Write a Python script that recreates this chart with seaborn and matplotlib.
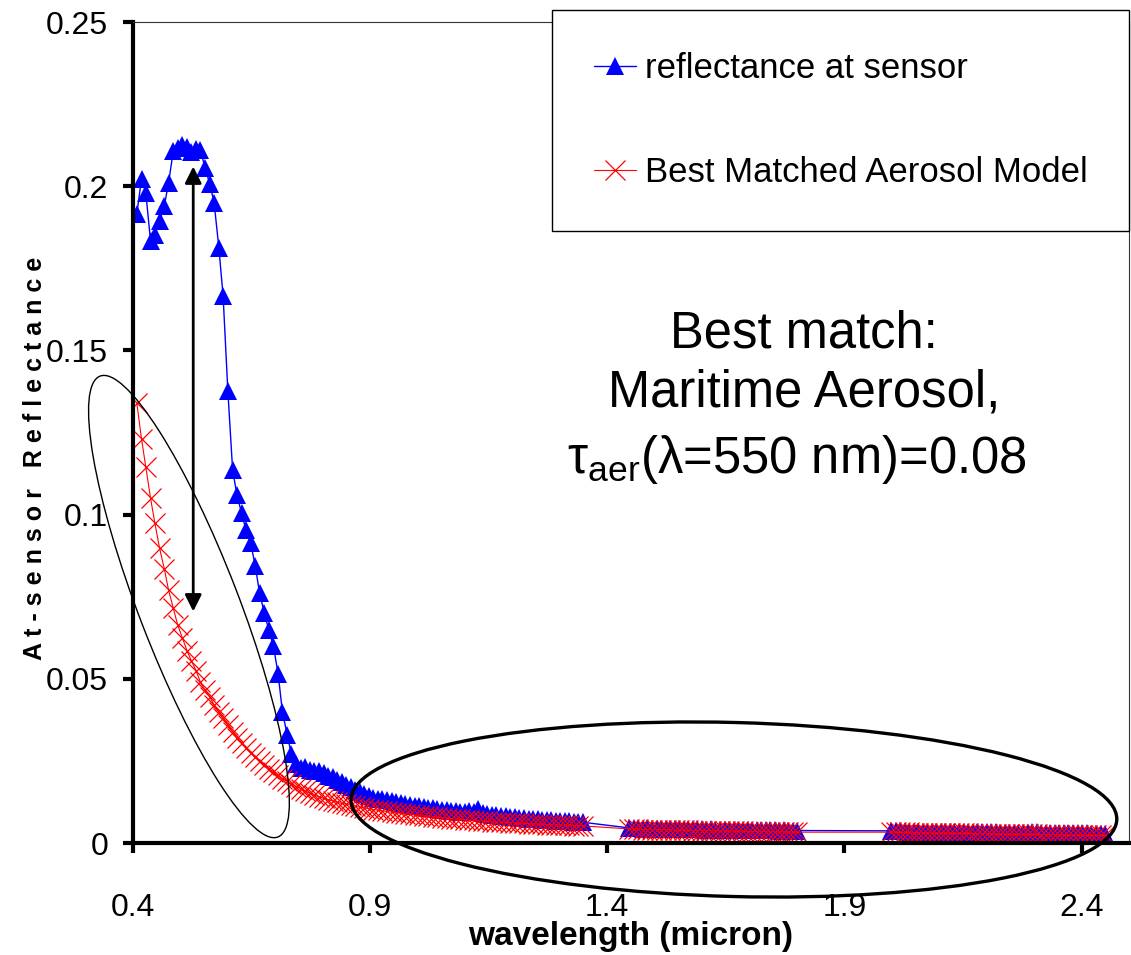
import pandas as pd
import matplotlib
matplotlib.use('Agg')
import matplotlib.pyplot as plt
import seaborn as sns
from matplotlib.patches import Ellipse
from matplotlib.transforms import ScaledTranslation

sns.set_theme(style='white')
sans = ['Liberation Sans', 'DejaVu Sans']
plt.rcParams['font.family'] = sans
plt.rcParams['mathtext.fontset'] = 'custom'
plt.rcParams['mathtext.rm'] = 'Liberation Sans'
plt.rcParams['mathtext.it'] = 'Liberation Sans:italic'

# wavelengths (micron), three spectral windows (water bands removed)
wl_vnir = [
    0.408, 0.418, 0.427, 0.437, 0.446, 0.456, 0.466, 0.475, 0.485, 0.494,
    0.504, 0.514, 0.523, 0.533, 0.542, 0.552, 0.562, 0.571, 0.581, 0.590,
    0.600, 0.610, 0.619, 0.629, 0.638, 0.648, 0.658, 0.667, 0.677, 0.686,
    0.696, 0.706, 0.715, 0.725, 0.734, 0.744, 0.754, 0.763, 0.773, 0.782,
    0.792, 0.802, 0.811, 0.821, 0.830, 0.840, 0.850, 0.859, 0.869, 0.878,
    0.888, 0.898, 0.907, 0.917, 0.926, 0.936, 0.946, 0.955, 0.965, 0.974,
    0.984, 0.994, 1.003, 1.013, 1.022, 1.032, 1.042, 1.051, 1.061, 1.070,
    1.080, 1.090, 1.099, 1.109, 1.118, 1.128, 1.138, 1.147, 1.157, 1.166,
    1.176, 1.186, 1.195, 1.205, 1.214, 1.224, 1.234, 1.243, 1.253, 1.262,
    1.272, 1.282, 1.291, 1.301, 1.310, 1.320, 1.330, 1.339, 1.349]
wl_swir1 = [
    1.446, 1.456, 1.465, 1.475, 1.484, 1.494, 1.504, 1.513, 1.523, 1.532,
    1.542, 1.552, 1.561, 1.571, 1.580, 1.590, 1.600, 1.609, 1.619, 1.628,
    1.638, 1.648, 1.657, 1.667, 1.676, 1.686, 1.696, 1.705, 1.715, 1.724,
    1.734, 1.744, 1.753, 1.763, 1.772, 1.782, 1.792, 1.801]
wl_swir2 = [
    1.998, 2.008, 2.017, 2.027, 2.036, 2.046, 2.056, 2.065, 2.075, 2.084,
    2.094, 2.104, 2.113, 2.123, 2.132, 2.142, 2.152, 2.161, 2.171, 2.180,
    2.190, 2.200, 2.209, 2.219, 2.228, 2.238, 2.248, 2.257, 2.267, 2.276,
    2.286, 2.296, 2.305, 2.315, 2.324, 2.334, 2.344, 2.353, 2.363, 2.372,
    2.382, 2.392, 2.401, 2.411, 2.420, 2.430, 2.440, 2.449]

# reflectance at sensor
refl_vnir = [
    0.1915, 0.2023, 0.1980, 0.1833, 0.1850, 0.1894, 0.1940, 0.2010, 0.2108, 0.2115,
    0.2125, 0.2118, 0.2105, 0.2112, 0.2110, 0.2056, 0.2006, 0.1950, 0.1813, 0.1665,
    0.1376, 0.1137, 0.1061, 0.1005, 0.0954, 0.0914, 0.0842, 0.0760, 0.0700, 0.0650,
    0.0600, 0.0515, 0.0400, 0.0330, 0.0270, 0.0240, 0.0228, 0.0232, 0.0222, 0.0218,
    0.0220, 0.0212, 0.0205, 0.0200, 0.0192, 0.0186, 0.0178, 0.0170, 0.0162, 0.0155,
    0.0148, 0.0142, 0.0138, 0.0135, 0.0133, 0.0130, 0.0128, 0.0125, 0.0122, 0.0120,
    0.0117, 0.0114, 0.0112, 0.0110, 0.0108, 0.0106, 0.0104, 0.0102, 0.0100, 0.0098,
    0.0096, 0.0095, 0.0094, 0.0098, 0.0095, 0.0104, 0.0092, 0.0088, 0.0086, 0.0085,
    0.0083, 0.0081, 0.0080, 0.0078, 0.0077, 0.0075, 0.0074, 0.0073, 0.0072, 0.0071,
    0.0070, 0.0069, 0.0068, 0.0067, 0.0066, 0.0066, 0.0065, 0.0064, 0.0063]
refl_swir1 = [
    0.0046, 0.0045, 0.0045, 0.0044, 0.0045, 0.0044, 0.0044, 0.0043, 0.0044, 0.0043,
    0.0043, 0.0043, 0.0042, 0.0043, 0.0042, 0.0042, 0.0042, 0.0041, 0.0042, 0.0041,
    0.0041, 0.0041, 0.0040, 0.0041, 0.0040, 0.0040, 0.0040, 0.0039, 0.0040, 0.0039,
    0.0039, 0.0039, 0.0039, 0.0038, 0.0039, 0.0038, 0.0038, 0.0038]
refl_swir2 = [
    0.0037, 0.0036, 0.0036, 0.0036, 0.0035, 0.0035, 0.0035, 0.0035, 0.0034, 0.0034,
    0.0034, 0.0034, 0.0034, 0.0033, 0.0033, 0.0033, 0.0033, 0.0033, 0.0032, 0.0032,
    0.0032, 0.0032, 0.0032, 0.0032, 0.0031, 0.0031, 0.0031, 0.0031, 0.0031, 0.0031,
    0.0031, 0.0032, 0.0033, 0.0031, 0.0030, 0.0030, 0.0030, 0.0030, 0.0030, 0.0029,
    0.0029, 0.0029, 0.0029, 0.0029, 0.0028, 0.0028, 0.0028, 0.0028]

# best matched aerosol model
model_vnir = [
    0.1340, 0.1230, 0.1145, 0.1050, 0.0975, 0.0898, 0.0835, 0.0770, 0.0715, 0.0665,
    0.0625, 0.0585, 0.0555, 0.0525, 0.0490, 0.0465, 0.0445, 0.0420, 0.0400, 0.0380,
    0.0360, 0.0338, 0.0320, 0.0305, 0.0290, 0.0275, 0.0262, 0.0250, 0.0238, 0.0226,
    0.0216, 0.0206, 0.0196, 0.0188, 0.0180, 0.0172, 0.0165, 0.0158, 0.0152, 0.0146,
    0.0141, 0.0136, 0.0132, 0.0128, 0.0124, 0.0121, 0.0118, 0.0115, 0.0112, 0.0109,
    0.0107, 0.0104, 0.0102, 0.0100, 0.0098, 0.0096, 0.0094, 0.0092, 0.0090, 0.0088,
    0.0087, 0.0085, 0.0084, 0.0082, 0.0081, 0.0079, 0.0078, 0.0077, 0.0075, 0.0074,
    0.0073, 0.0072, 0.0071, 0.0070, 0.0069, 0.0068, 0.0067, 0.0066, 0.0065, 0.0064,
    0.0063, 0.0063, 0.0062, 0.0061, 0.0060, 0.0060, 0.0059, 0.0058, 0.0058, 0.0057,
    0.0056, 0.0056, 0.0055, 0.0055, 0.0054, 0.0054, 0.0053, 0.0053, 0.0052]
model_swir1 = [
    0.0043, 0.0042, 0.0042, 0.0041, 0.0041, 0.0041, 0.0040, 0.0040, 0.0040, 0.0040,
    0.0039, 0.0039, 0.0039, 0.0039, 0.0038, 0.0038, 0.0038, 0.0038, 0.0037, 0.0037,
    0.0037, 0.0037, 0.0036, 0.0036, 0.0036, 0.0036, 0.0035, 0.0035, 0.0035, 0.0035,
    0.0035, 0.0034, 0.0034, 0.0034, 0.0034, 0.0033, 0.0033, 0.0033]
model_swir2 = [
    0.0033, 0.0033, 0.0032, 0.0032, 0.0032, 0.0031, 0.0031, 0.0031, 0.0031, 0.0030,
    0.0030, 0.0030, 0.0030, 0.0029, 0.0029, 0.0029, 0.0029, 0.0029, 0.0028, 0.0028,
    0.0028, 0.0028, 0.0027, 0.0027, 0.0027, 0.0027, 0.0027, 0.0026, 0.0026, 0.0026,
    0.0026, 0.0026, 0.0026, 0.0025, 0.0025, 0.0025, 0.0025, 0.0025, 0.0024, 0.0024,
    0.0024, 0.0024, 0.0024, 0.0023, 0.0023, 0.0023, 0.0023, 0.0023]

x_ticks = [0.4, 0.9, 1.4, 1.9, 2.4]
x_tick_labels = ['0.4', '0.9', '1.4', '1.9', '2.4']
y_ticks = [0, 0.05, 0.1, 0.15, 0.2, 0.25]
y_tick_labels = ['0', '0.05', '0.1', '0.15', '0.2', '0.25']

df = pd.DataFrame({
    'wavelength': wl_vnir + wl_swir1 + wl_swir2,
    'sensor': refl_vnir + refl_swir1 + refl_swir2,
    'model': model_vnir + model_swir1 + model_swir2,
})

fig = plt.figure(figsize=(11.31, 9.55), dpi=100)
ax = fig.add_axes([133 / 1131, 112 / 955, 996 / 1131, 821 / 955])

sns.lineplot(data=df, x='wavelength', y='sensor', ax=ax, color='#0000FF',
             linewidth=1.0, marker='^', markersize=13, markeredgewidth=0,
             markerfacecolor='#0000FF', markeredgecolor='#0000FF',
             label='reflectance at sensor', legend=False)
sns.lineplot(data=df, x='wavelength', y='model', ax=ax, color='#FF0000',
             linewidth=0.8, marker='x', markersize=15, markeredgewidth=0.9,
             markeredgecolor='#FF0000', label='Best Matched Aerosol Model',
             legend=False)

# axes styling
for s in ['left', 'bottom']:
    ax.spines[s].set_linewidth(3)
    ax.spines[s].set_color('black')
for s in ['top', 'right']:
    ax.spines[s].set_linewidth(0.8)
    ax.spines[s].set_color('#333333')

ax.set_xticks(x_ticks)
ax.set_xticklabels(x_tick_labels)
ax.set_yticks(y_ticks)
ax.set_yticklabels(y_tick_labels)
ax.tick_params(axis='both', direction='out', length=7, width=3, color='black',
               labelsize=23, labelcolor='black', bottom=True, left=True,
               top=False, right=False)
ax.tick_params(axis='x', pad=29)
ax.tick_params(axis='y', pad=11)

ax.set_xlabel('wavelength (micron)', fontsize=24, fontweight='bold', color='black')
ax.xaxis.set_label_coords(0.5, -0.1245)
ax.xaxis.label.set_va('baseline')
ax.set_ylabel('A t - s e n s o r   R e f l e c t a n c e', fontsize=18,
              fontweight='bold', color='black')
ax.yaxis.set_label_coords(-0.098, 0.468)
ax.yaxis.label.set_va('center')
ax.yaxis.label.set_ha('center')

# annotation text
note_x = 1.815
ax.text(note_x, 0.1509, 'Best match:', ha='center', va='baseline',
        fontsize=36.5, color='black')
ax.text(note_x, 0.1329, 'Maritime Aerosol,', ha='center', va='baseline',
        fontsize=36.5, color='black')
ax.text(note_x - 0.015, 0.1128, r'$\mathrm{\tau_{aer}}$(λ=550 nm)=0.08',
        ha='center', va='baseline', fontsize=36.5, color='black')

# double-headed arrow showing the gap
ax.annotate('', xy=(0.527, 0.206), xytext=(0.527, 0.0705),
            arrowprops=dict(arrowstyle='<|-|>,head_length=0.5,head_width=0.25',
                            mutation_scale=20, color='black', lw=2,
                            shrinkA=0, shrinkB=0))


def add_ellipse(cx, cy, w_in, h_in, angle, lw):
    tr = fig.dpi_scale_trans + ScaledTranslation(cx, cy, ax.transData)
    e = Ellipse((0, 0), w_in, h_in, angle=angle, fill=False,
                edgecolor='black', lw=lw, transform=tr, zorder=5)
    fig.add_artist(e)


add_ellipse(0.518, 0.0720, 4.94, 1.00, -68.9, 1.0)
add_ellipse(1.667, 0.0102, 7.66, 1.74, -1.5, 2.4)

ax.set_xlim(0.4, 2.5)
ax.set_ylim(0, 0.25)

handles, labels = ax.get_legend_handles_labels()
leg = fig.legend(handles, labels, loc='upper right',
                 bbox_to_anchor=(1129 / 1131, 945 / 955), fontsize=25,
                 frameon=True, fancybox=False, edgecolor='black', framealpha=1,
                 borderpad=1.2, labelspacing=2.05, handlelength=1.2,
                 handletextpad=0.26, borderaxespad=0)
leg.get_frame().set_linewidth(1.0)
for t in leg.get_texts():
    t.set_color('black')

fig.savefig('out.png', dpi=100, facecolor='white')
